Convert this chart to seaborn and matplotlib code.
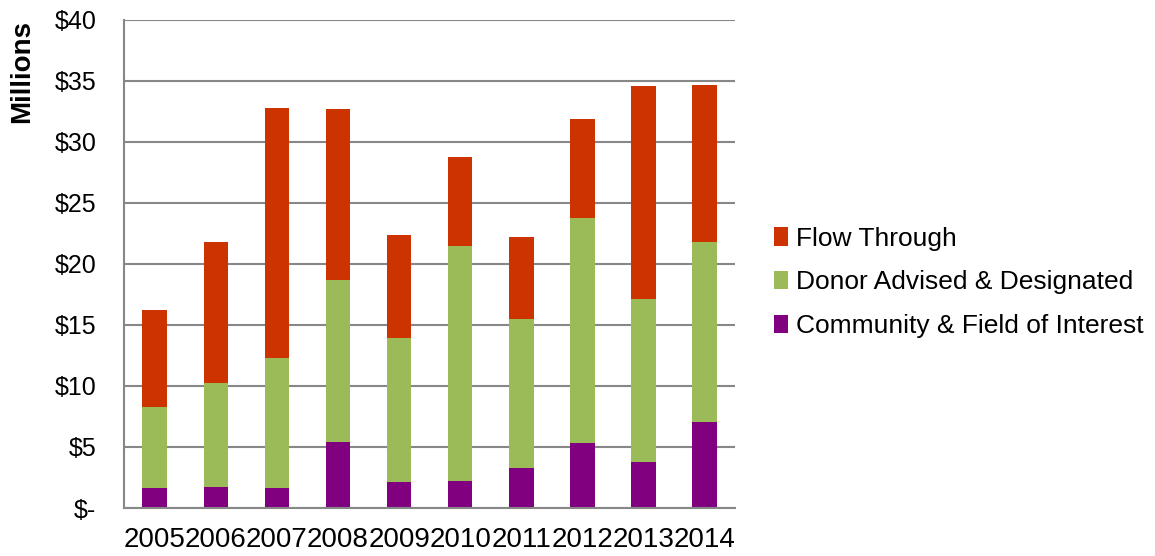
import matplotlib
matplotlib.use("Agg")
import matplotlib.pyplot as plt
import seaborn as sns
import pandas as pd
from matplotlib.patches import Patch

years = ["2005", "2006", "2007", "2008", "2009", "2010", "2011", "2012", "2013", "2014"]
community = [1.66, 1.72, 1.66, 5.44, 2.10, 2.24, 3.30, 5.36, 3.77, 7.07]
donor_advised = [6.62, 8.53, 10.61, 13.26, 11.80, 19.26, 12.20, 18.44, 13.33, 14.73]
flow_through = [7.92, 11.55, 20.53, 14.00, 8.45, 7.30, 6.70, 8.10, 17.50, 12.90]

series_names = ["Community & Field of Interest", "Donor Advised & Designated", "Flow Through"]
colors = ["#800080", "#9BBB59", "#CC3300"]
y_ticks = [0, 5, 10, 15, 20, 25, 30, 35, 40]
y_labels = ["$-", "$5", "$10", "$15", "$20", "$25", "$30", "$35", "$40"]

df = pd.DataFrame({
    "year": years,
    "community": community,
    "donor": donor_advised,
    "flow": flow_through,
})
df["lvl1"] = df["community"]
df["lvl2"] = df["lvl1"] + df["donor"]
df["lvl3"] = df["lvl2"] + df["flow"]

sns.set_style("white")
plt.rcParams["font.family"] = ["Liberation Sans", "DejaVu Sans"]
plt.rcParams["text.color"] = "black"

fig = plt.figure(figsize=(11.55, 5.56), dpi=100)
ax = fig.add_axes([0.1075, 0.0863, 0.529, 0.878])

grid_color = "#878787"
ax.set_axisbelow(True)
ax.yaxis.grid(True, color=grid_color, linewidth=1.5)

# stacked bars: draw cumulative totals from the top layer down
for col, c in zip(["lvl3", "lvl2", "lvl1"], [colors[2], colors[1], colors[0]]):
    sns.barplot(data=df, x="year", y=col, color=c, width=0.4, ax=ax,
                saturation=1, edgecolor="none", errorbar=None)

ax.set_xlim(-0.5, len(years) - 0.5)
ax.set_ylim(0, 40)
ax.set_yticks(y_ticks)
ax.set_yticklabels(y_labels)
ax.set_xlabel("")
ax.set_ylabel("")

fig.text(22 / 1155, 1 - 20 / 556, "Millions", rotation=90, ha="center", va="top",
         fontsize=20, fontweight="bold", color="black")

# tick marks between categories, labels centred under bars
ax.set_xticks([i - 0.5 for i in range(len(years) + 1)], minor=True)
ax.tick_params(axis="x", which="major", length=0, labelsize=20, pad=14, labelcolor="black")
ax.tick_params(axis="x", which="minor", length=6, width=1.5, color=grid_color, direction="out")
ax.tick_params(axis="y", which="major", length=6, width=1.5, color=grid_color,
               direction="out", labelsize=18, pad=14, labelcolor="black")

for side in ["top", "right"]:
    ax.spines[side].set_visible(False)
for side in ["left", "bottom"]:
    ax.spines[side].set_color(grid_color)
    ax.spines[side].set_linewidth(1.5)

handles = [Patch(facecolor=colors[i], edgecolor="none") for i in [2, 1, 0]]
labels = [series_names[i] for i in [2, 1, 0]]
fig.legend(handles, labels, loc="center left", bbox_to_anchor=(0.670, 0.492),
           frameon=False, fontsize=19, handlelength=0.55, handleheight=0.7,
           handletextpad=0.3, labelspacing=0.75, labelcolor="black",
           borderaxespad=0, borderpad=0)

fig.savefig("out.png", dpi=100)
